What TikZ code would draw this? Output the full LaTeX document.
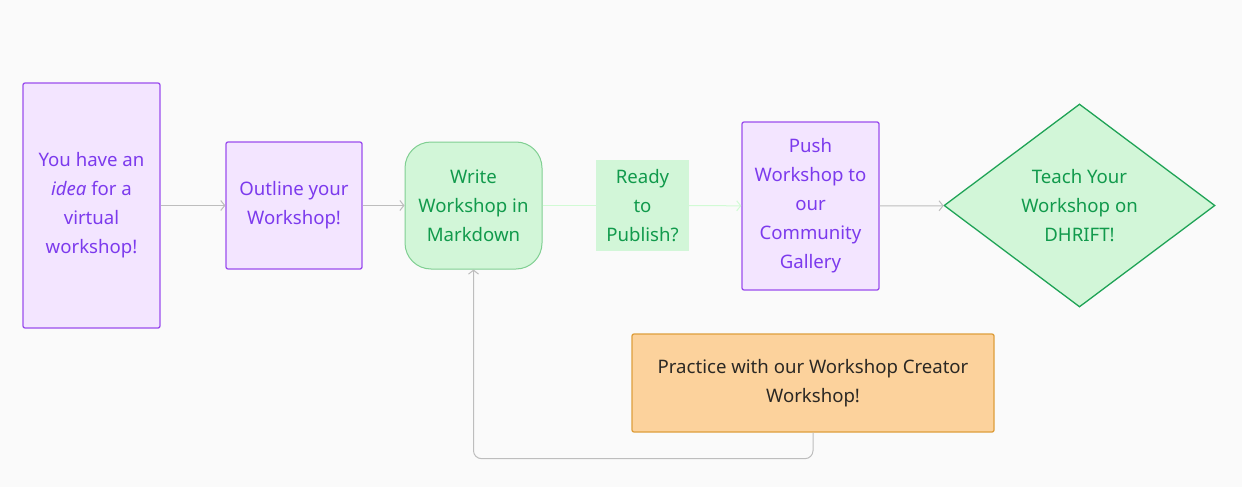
\documentclass[tikz,border=0pt]{standalone}
\usepackage{fontspec}
\setmainfont{Noto Sans}
\usetikzlibrary{shapes.geometric,arrows.meta,positioning}

\definecolor{bgcol}{HTML}{FAFAFA}
\definecolor{lilac}{HTML}{F3E5FF}
\definecolor{lilacline}{HTML}{9B4DEE}
\definecolor{lilactext}{HTML}{7C3AED}
\definecolor{mint}{HTML}{D2F6D8}
\definecolor{mintline}{HTML}{80CF92}
\definecolor{minttext}{HTML}{119A4C}
\definecolor{mintdark}{HTML}{1FA356}
\definecolor{peach}{HTML}{FCD29C}
\definecolor{peachline}{HTML}{DE9E3C}
\definecolor{peachtext}{HTML}{2B2824}
\definecolor{flowgray}{HTML}{BDBDBD}

\tikzset{
 purplebox/.style={draw=lilacline, fill=lilac, text=lilactext, line width=1.3pt, rounded corners=2pt, align=center, inner sep=0pt},
 greenbox/.style={draw=mintline, fill=mint, text=minttext, line width=1pt, rounded corners=26pt, align=center, inner sep=0pt},
 flow/.style={draw=flowgray, line width=1pt, -{Straight Barb[length=4pt,width=10pt]}},
}

\begin{document}
\begin{tikzpicture}[x=1pt, y=-1pt, font=\fontsize{18.6}{29}\selectfont]
 % page background
 \fill[bgcol] (0,0) rectangle (1242,487);

 % the steps, left to right
 \node[purplebox, minimum width=137pt, minimum height=245pt] (idea) at (91.5,205.5)
  {You have an\\ \textit{idea} for a\\ virtual\\ workshop!};
 \node[purplebox, minimum width=136pt, minimum height=127pt] (outline) at (294,205.5)
  {Outline your\\ Workshop!};
 \node[greenbox, minimum width=137pt, minimum height=127pt] (write) at (473.5,205.5)
  {Write\\ Workshop in\\ Markdown};
 \node[fill=mint, text=minttext, align=center, inner sep=0pt, minimum width=93pt, minimum height=91pt] (ready) at (642.5,205.5)
  {Ready\\ to\\ Publish?};
 \node[purplebox, minimum width=137pt, minimum height=168pt] (push) at (810.5,206)
  {Push\\ Workshop to\\ our\\ Community\\ Gallery};
 \node[diamond, draw=mintdark, fill=mint, text=minttext, line width=1.3pt, align=center, inner sep=0pt,
  minimum width=271pt, minimum height=203pt] (teach) at (1079.5,205.5)
  {Teach Your\\ Workshop on\\ DHRIFT!};

 % side step
 \node[draw=peachline, fill=peach, text=peachtext, line width=1.3pt, rounded corners=2pt, align=center,
  minimum width=362pt, minimum height=98pt] (practice) at (813,383)
  {Practice with our Workshop Creator\\ Workshop!};

 % connectors
 \draw[flow] (idea) -- (outline);
 \draw[flow] (outline) -- (write);
 \draw[draw=mint!85!green!60!white, line width=1pt] (write) -- (ready);
 \draw[flow, draw=mint!85!green!60!white] (ready) -- (push);
 \draw[flow] (push) -- (teach);
 \draw[flow, rounded corners=8pt] (practice.south) -- ++(0,26) -| (write.south);
\end{tikzpicture}
\end{document}
